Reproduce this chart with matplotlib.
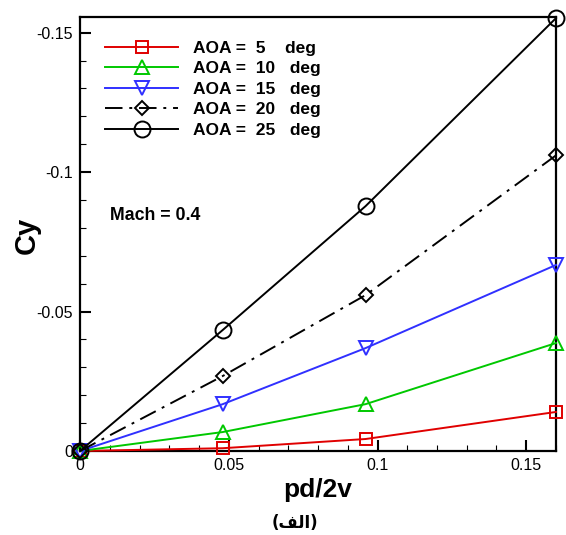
import matplotlib
matplotlib.use("Agg")
import matplotlib.pyplot as plt
from matplotlib.ticker import FixedLocator, MultipleLocator, FixedFormatter

plt.rcParams['font.family'] = ['Liberation Sans', 'DejaVu Sans']

# Reduced roll rate and side-force coefficient for each angle of attack
pd2v = [0.0, 0.048, 0.096, 0.16]
cy_aoa5 = [0.0, -0.0010, -0.0043, -0.0140]
cy_aoa10 = [0.0, -0.0068, -0.0168, -0.0387]
cy_aoa15 = [0.0, -0.0168, -0.0369, -0.0667]
cy_aoa20 = [0.0, -0.0269, -0.0559, -0.1060]
cy_aoa25 = [0.0, -0.0434, -0.0878, -0.1552]
labels = ["AOA =  5    deg", "AOA =  10   deg", "AOA =  15   deg",
          "AOA =  20   deg", "AOA =  25   deg"]
x_ticks = [0, 0.05, 0.1, 0.15]
x_tick_labels = ["0", "0.05", "0.1", "0.15"]
y_ticks = [0, -0.05, -0.1, -0.15]
y_tick_labels = ["0", "-0.05", "-0.1", "-0.15"]

fig = plt.figure(figsize=(5.66, 5.35), dpi=100)
ax = fig.add_axes([80 / 566, 84 / 535, 476 / 566, 434 / 535])

styles = [
    dict(color="#e00000", marker="s", ms=9, ls="-"),
    dict(color="#00c800", marker="^", ms=10, ls="-"),
    dict(color="#3030ff", marker="v", ms=10, ls="-"),
    dict(color="black", marker="D", ms=7, ls=(0, (9, 3.5, 1.5, 3.5))),
    dict(color="black", marker="o", ms=11.5, ls="-"),
]
series = [cy_aoa5, cy_aoa10, cy_aoa15, cy_aoa20, cy_aoa25]
for ys, st, lab in zip(series, styles, labels):
    ax.plot(pd2v, ys, color=st["color"], linestyle=st["ls"], lw=1.4,
            marker=st["marker"], markersize=st["ms"], markerfacecolor="none",
            markeredgecolor=st["color"], markeredgewidth=1.4,
            label=lab, clip_on=False, zorder=3)

ax.set_xlim(0, 0.16)
ax.set_ylim(0, -0.1556)

ax.xaxis.set_major_locator(FixedLocator(x_ticks))
ax.xaxis.set_major_formatter(FixedFormatter(x_tick_labels))
ax.xaxis.set_minor_locator(MultipleLocator(0.01))
ax.yaxis.set_major_locator(FixedLocator(y_ticks))
ax.yaxis.set_major_formatter(FixedFormatter(y_tick_labels))
ax.yaxis.set_minor_locator(MultipleLocator(0.01))

ax.tick_params(which="both", direction="in", top=False, right=False,
               labelsize=11.5, width=1.5)
ax.tick_params(which="major", length=8, pad=5)
ax.tick_params(which="minor", length=4, width=0.8)
for sp in ax.spines.values():
    sp.set_linewidth(1.6)

ax.set_xlabel("pd/2v", fontsize=19, fontweight="bold", labelpad=4)
ax.set_ylabel("Cy", fontsize=21, fontweight="bold")
ax.yaxis.set_label_coords(-0.082, 0.497)

leg = ax.legend(loc="upper left", bbox_to_anchor=(0.031, 0.970), frameon=False,
                prop=dict(size=12.5, weight="bold"), handlelength=4.2,
                handletextpad=0.86, labelspacing=0.31, borderaxespad=0.2)

ax.text(0.063, 0.543, "Mach = 0.4", transform=ax.transAxes, fontsize=12.8,
        fontweight="bold", va="center", ha="left")

# Caption (Arabic presentation forms, laid out visually left to right)
fig.text(295 / 566, 1 - 523 / 535, "(\uFED2\uFEDF\uFE8D)", fontsize=12,
         fontweight="bold", ha="center", va="center",
         family=["DejaVu Sans"])

fig.savefig("out.png", dpi=100)
